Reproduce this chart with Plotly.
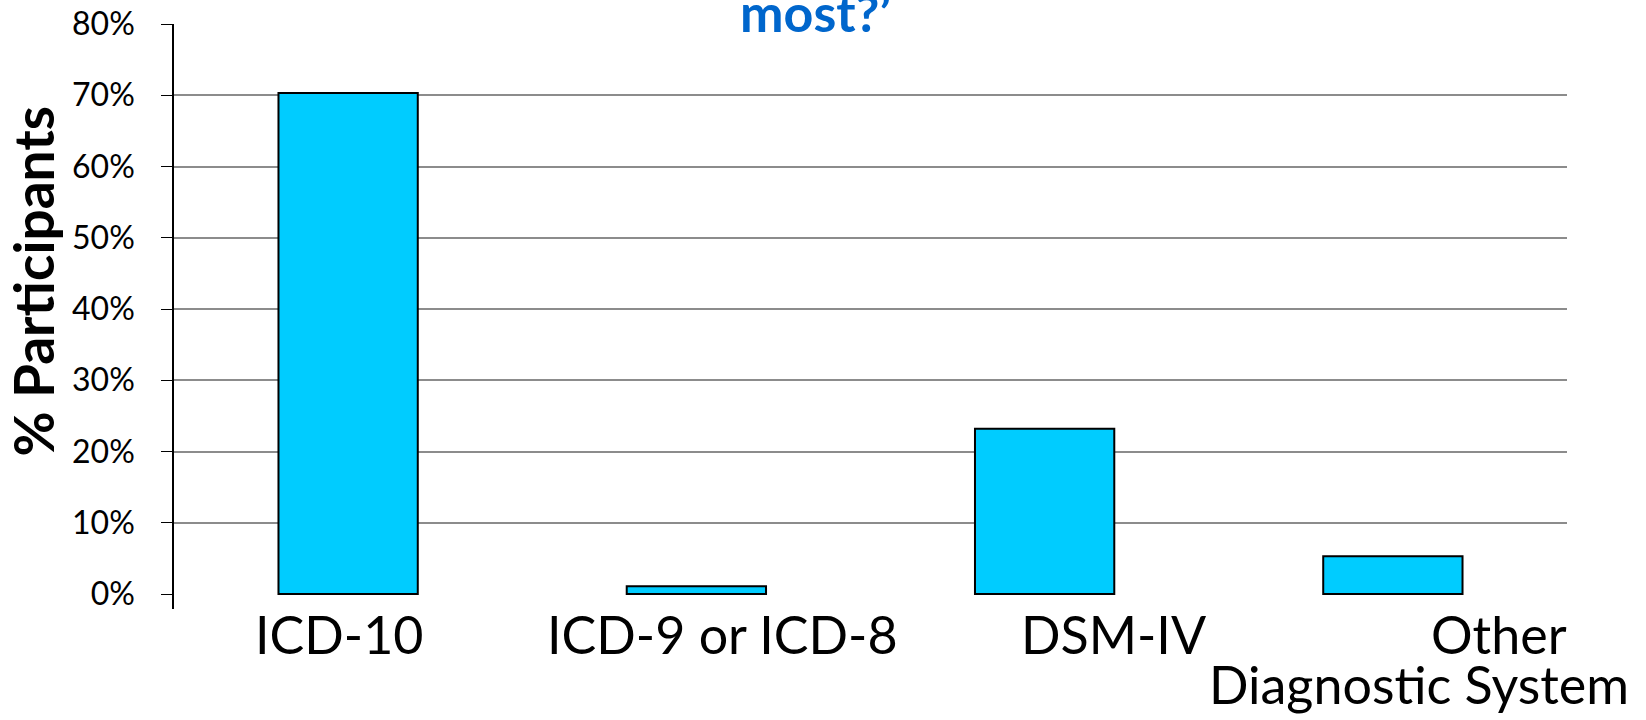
import plotly.graph_objects as go

# Survey responses: diagnostic system used most
categories = ["ICD-10", "ICD-9 or ICD-8", "DSM-IV", "Other Diagnostic System"]
percent_participants = [70.3, 1.1, 23.2, 5.3]
y_ticks = [0, 10, 20, 30, 40, 50, 60, 70, 80]
y_tick_labels = [f"{v}%" for v in y_ticks]

FONT = "Lato"

fig = go.Figure(
    go.Bar(
        x=categories,
        y=percent_participants,
        width=0.4,
        marker=dict(color="#00CCFF", line=dict(color="black", width=2)),
        hoverinfo="skip",
    )
)

fig.update_layout(
    width=1646,
    height=720,
    margin=dict(l=174, r=79, t=24, b=111, autoexpand=False),
    paper_bgcolor="white",
    plot_bgcolor="white",
    showlegend=False,
    font=dict(family=FONT, color="black"),
    xaxis=dict(
        type="category",
        range=[-0.5, len(categories) - 0.5],
        autorange=False,
        showticklabels=False,
        showgrid=False,
        showline=False,
        zeroline=False,
        ticks="",
        automargin=False,
    ),
    yaxis=dict(
        range=[-2.1, 80],
        autorange=False,
        automargin=False,
        tickvals=y_ticks,
        ticktext=y_tick_labels,
        tickfont=dict(family=FONT, size=32, color="black"),
        ticks="outside",
        ticklen=11,
        tickcolor="black",
        tickwidth=1,
        ticklabelstandoff=20,
        showline=True,
        linecolor="black",
        linewidth=1.5,
        showgrid=True,
        gridcolor="#8c8c8c",
        gridwidth=1.5,
        zeroline=True,
        zerolinecolor="rgba(0,0,0,0)",
    ),
)

# Category labels under the bars (last one wraps onto two lines)
label_font = dict(family=FONT, size=52, color="black")
label_parts = [
    (categories[0], "ICD-10", -9, 0),
    (categories[1], "ICD-9 or ICD-8", 26, 0),
    (categories[2], "DSM-IV", 69, 0),
    (categories[3], "Other", 106, 0),
    (categories[3], "Diagnostic System", 26, -50),
]
for cat, text, dx, dy in label_parts:
    fig.add_annotation(
        x=cat, y=0, xref="x", yref="paper",
        text=text, showarrow=False,
        xanchor="center", yanchor="top",
        xshift=dx, yshift=dy + 8,
        font=label_font,
    )

# Y-axis title
fig.add_annotation(
    x=0, y=0.5, xref="paper", yref="paper",
    text="<b>% Participants</b>", showarrow=False,
    textangle=-90, xanchor="center", yanchor="middle",
    xshift=32 - 174, yshift=35,
    font=dict(family=FONT, size=55, color="black"),
)

# Tail of the chart heading
fig.add_annotation(
    x=0.5, y=1, xref="paper", yref="paper",
    text="<b>most?\u2019</b>", showarrow=False,
    xanchor="center", yanchor="bottom",
    xshift=815 - (174 + 1567) / 2, yshift=-21,
    font=dict(family=FONT, size=52, color="#0066CC"),
)

fig.write_html("out.html")
